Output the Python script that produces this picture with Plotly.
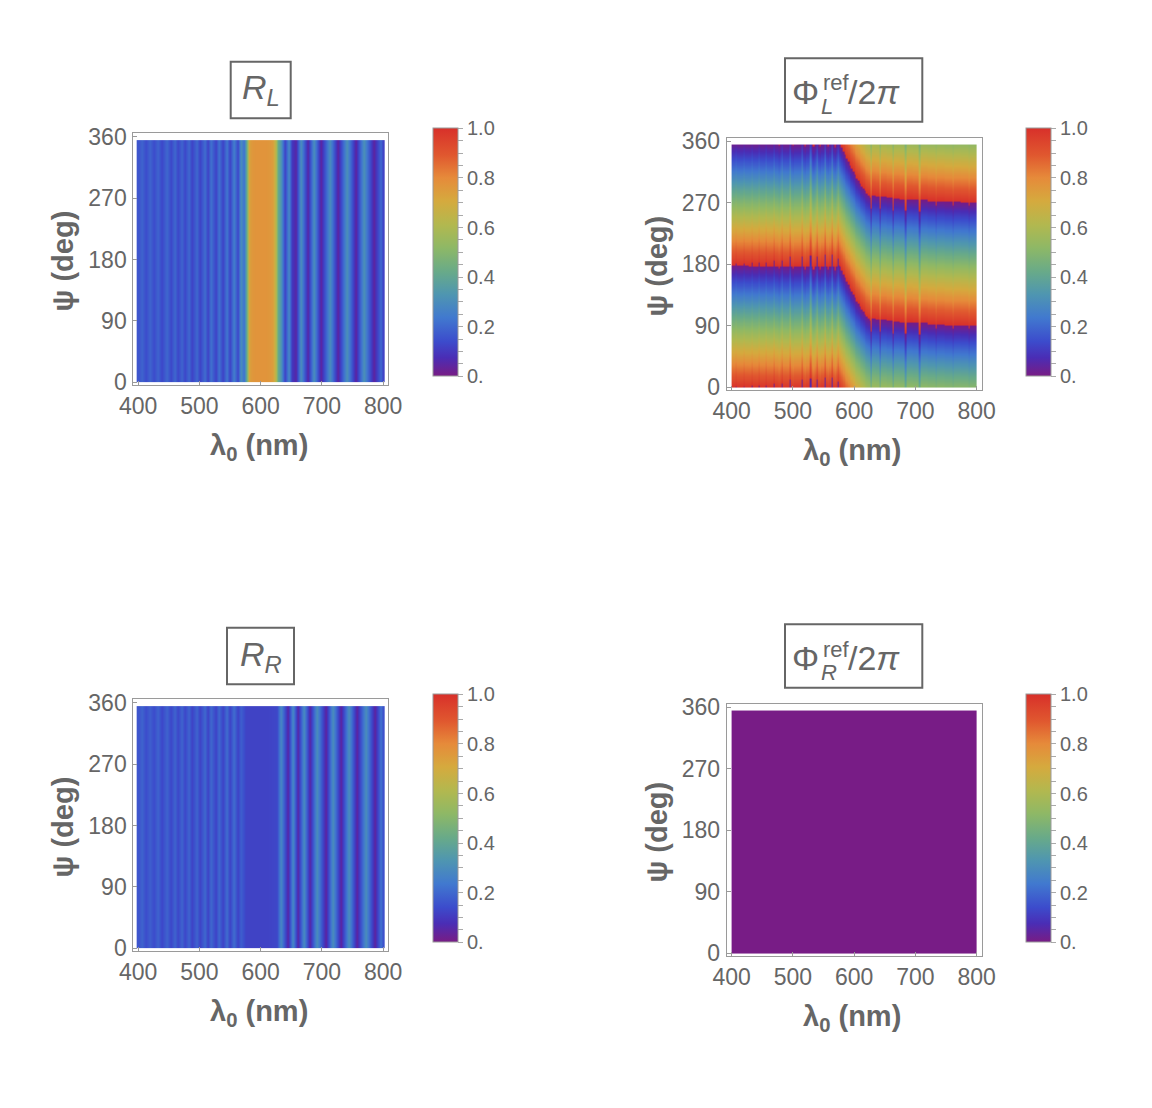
import numpy as np
import plotly.graph_objects as go

W, H = 1152, 1108
OFF = 8  # the page body adds an 8 px margin
FONT = "Liberation Sans, Arial, sans-serif"
GRAY = "#666666"
FRAME = "#9a9a9a"

# R_L(lambda): reflectance (independent of psi)
lam_rl = [400, 405, 412, 419, 426, 432, 439, 446, 453, 459,
          465, 471, 476, 482, 488, 495, 501, 508, 513, 519,
          526, 532, 538, 544, 550, 556, 562, 568, 572, 575,
          578, 581, 585, 592, 600, 608, 615, 620, 624, 627,
          632, 639, 645, 651, 657, 666, 676, 687, 698, 712,
          725, 740, 755, 769, 785, 796, 800]
r_l = [0.16, 0.19, 0.14, 0.19, 0.14, 0.19, 0.13, 0.20, 0.13, 0.20,
       0.13, 0.19, 0.13, 0.20, 0.12, 0.20, 0.12, 0.21, 0.12, 0.22,
       0.12, 0.22, 0.12, 0.23, 0.12, 0.25, 0.13, 0.30, 0.22, 0.35,
       0.55, 0.72, 0.76, 0.77, 0.77, 0.77, 0.76, 0.74, 0.62, 0.42,
       0.33, 0.12, 0.28, 0.10, 0.05, 0.30, 0.05, 0.30, 0.04, 0.30,
       0.04, 0.31, 0.04, 0.31, 0.04, 0.20, 0.12]

# R_R(lambda)
lam_rr = [400, 405, 412, 419, 426, 432, 439, 446, 453, 459,
          465, 471, 476, 482, 488, 495, 501, 508, 513, 519,
          526, 532, 538, 544, 550, 556, 562, 568, 575, 590,
          610, 626, 633, 644, 652, 660, 671, 680, 692, 706,
          717, 731, 744, 757, 771, 787, 796, 800]
r_r = [0.16, 0.19, 0.14, 0.18, 0.14, 0.19, 0.13, 0.19, 0.13, 0.19,
       0.13, 0.19, 0.13, 0.19, 0.12, 0.19, 0.12, 0.20, 0.12, 0.20,
       0.12, 0.20, 0.12, 0.21, 0.12, 0.21, 0.12, 0.18, 0.12, 0.12,
       0.12, 0.13, 0.28, 0.05, 0.28, 0.05, 0.29, 0.05, 0.30, 0.04,
       0.30, 0.04, 0.30, 0.04, 0.30, 0.04, 0.22, 0.15]

# reflected phase offset of L (in turns) at psi = 0, per wavelength column;
# the phase drops one turn per 180 deg of psi
lam_phl = [400, 405, 407, 409, 418, 420, 422, 432, 434, 436,
           443, 445, 447, 454, 456, 458, 467, 469, 471, 475,
           477, 479, 481, 483, 485, 494, 496, 498, 499, 501,
           503, 513, 515, 517, 518, 520, 522, 527, 529, 531,
           532, 534, 536, 537, 539, 541, 543, 545, 547, 551,
           553, 555, 556, 558, 560, 562, 564, 566, 567, 569,
           571, 574, 576, 577.3, 580, 582.7, 585.4, 588.1, 590.8, 593.5,
           596.2, 598.9, 601.6, 604.3, 607, 609.7, 612.4, 615.1, 617.8, 620.5,
           623.2, 625.9, 627.5, 629, 641, 643, 645, 662, 664, 666,
           682, 684, 686, 705, 707, 709, 732, 734, 736, 759,
           761, 763, 786, 788, 790, 800]
phi_l = [-0.012, -0.012, 0.006, -0.012, -0.013, 0.008, -0.013, -0.014, 0.010, -0.014,
         -0.015, 0.012, -0.015, -0.016, 0.015, -0.016, -0.017, 0.025, -0.017, -0.018,
         -0.040, -0.018, -0.018, 0.035, -0.018, -0.020, 0.060, -0.020, -0.020, -0.040,
         -0.020, -0.020, 0.060, -0.020, -0.020, -0.045, -0.020, -0.020, 0.070, -0.020,
         -0.020, -0.045, -0.020, -0.020, 0.060, -0.020, -0.020, -0.045, -0.020, -0.020,
         0.080, -0.020, -0.020, -0.045, -0.020, -0.020, 0.080, -0.020, -0.020, -0.050,
         -0.020, 0.050, -0.010, -0.017, -0.050, -0.085, -0.110, -0.140, -0.167, -0.194,
         -0.220, -0.248, -0.275, -0.303, -0.323, -0.344, -0.365, -0.386, -0.406, -0.427,
         -0.440, -0.453, -0.550, -0.444, -0.450, -0.550, -0.452, -0.462, -0.560, -0.465,
         -0.472, -0.565, -0.473, -0.478, -0.570, -0.480, -0.488, -0.520, -0.490, -0.497,
         -0.525, -0.497, -0.500, -0.525, -0.500, -0.500]

# reflected phase of R: flat zero
lam_phr = [400, 800]
phi_r = [0.0]

psi_max = 355
x_ticks = [400, 500, 600, 700, 800]
y_ticks = [0, 90, 180, 270, 360]
cb_vals = [i / 20 for i in range(21)]
cb_text = ["0." if i == 0 else ("%.1f" % (i / 20) if i % 4 == 0 else "") for i in range(21)]

rainbow = [[0.0, "#781c86"], [0.02, "#6c2191"], [0.074, "#4a2db5"], [0.14, "#3c4ccc"],
           [0.235, "#4179cf"], [0.33, "#4f96b0"], [0.42, "#68aa89"], [0.517, "#8eb866"],
           [0.61, "#b2b84f"], [0.705, "#d5aa3e"], [0.80, "#e68a3a"], [0.89, "#e0582f"],
           [1.0, "#d8302a"]]


def px(x):
    return (x - OFF) / W


def py(y):
    return 1 - (y - OFF) / H


def edges(c):
    c = np.asarray(c, dtype=float)
    return np.concatenate([[c[0]], (c[:-1] + c[1:]) / 2, [c[-1]]])


def colorbar(left, top):
    return dict(x=px(left), xanchor="left", y=py(top), yanchor="top",
                len=248, lenmode="pixels", thickness=25, thicknessmode="pixels",
                xpad=0, ypad=0, outlinewidth=1, outlinecolor=FRAME,
                tickmode="array", tickvals=cb_vals, ticktext=cb_text,
                ticks="outside", ticklen=5, tickcolor="#aaaaaa",
                tickfont=dict(family=FONT, size=20, color=GRAY))


# panel frames in pixels: (left, right, top, bottom), colorbar (left, top)
panels = [
    (133.3, 388.0, 133.3, 385.0, 432.7, 128.3),
    (726.7, 981.5, 137.7, 390.0, 1026.0, 128.3),
    (133.3, 388.0, 699.3, 951.0, 432.7, 694.3),
    (726.7, 981.5, 703.7, 956.0, 1026.0, 694.3),
]

fig = go.Figure()

# R_L
fig.add_trace(go.Heatmap(x=lam_rl, y=[0, psi_max / 2, psi_max], z=[r_l, r_l],
                         zsmooth="best", zmin=0, zmax=1, colorscale=rainbow,
                         xaxis="x", yaxis="y",
                         colorbar=colorbar(panels[0][4], panels[0][5])))

# Phi_L
psi_e = np.arange(0, psi_max + 1, 1.0)
psi_c = (psi_e[:-1] + psi_e[1:]) / 2
z_phl = np.mod(np.asarray(phi_l)[None, :] - psi_c[:, None] / 180.0, 1.0)
fig.add_trace(go.Heatmap(x=edges(lam_phl), y=psi_e, z=z_phl,
                         zsmooth=False, zmin=0, zmax=1, colorscale=rainbow,
                         xaxis="x2", yaxis="y2",
                         colorbar=colorbar(panels[1][4], panels[1][5])))

# R_R
fig.add_trace(go.Heatmap(x=lam_rr, y=[0, psi_max / 2, psi_max], z=[r_r, r_r],
                         zsmooth="best", zmin=0, zmax=1, colorscale=rainbow,
                         xaxis="x3", yaxis="y3",
                         colorbar=colorbar(panels[2][4], panels[2][5])))

# Phi_R
fig.add_trace(go.Heatmap(x=lam_phr, y=[0, psi_max], z=[phi_r],
                         zsmooth=False, zmin=0, zmax=1, colorscale=rainbow,
                         xaxis="x4", yaxis="y4",
                         colorbar=colorbar(panels[3][4], panels[3][5])))

axis_common = dict(showgrid=False, zeroline=False, showline=True, mirror=True,
                   linecolor=FRAME, linewidth=1, ticks="inside", ticklen=4,
                   tickcolor=FRAME, automargin=False,
                   tickfont=dict(family=FONT, size=23, color=GRAY))

layout = dict(width=W, height=H,
              margin=dict(l=0, r=0, t=0, b=0, pad=0, autoexpand=False),
              paper_bgcolor="white", plot_bgcolor="white", showlegend=False)
for i, (l, r, t, b, _, _) in enumerate(panels, start=1):
    sx = "" if i == 1 else str(i)
    layout["xaxis" + sx] = dict(axis_common, domain=[px(l), px(r)], range=[392, 808],
                                tickvals=x_ticks, anchor="y" + sx,
                                ticklabelstandoff=0)
    layout["yaxis" + sx] = dict(axis_common, domain=[py(b), py(t)], range=[-4, 365],
                                tickvals=y_ticks, anchor="x" + sx,
                                ticklabelstandoff=1)
fig.update_layout(**layout)

ann = []
shapes = []


def add_text(text, x, y, size, xanchor="center", angle=0):
    ann.append(dict(text=text, x=px(x), y=py(y), xref="paper", yref="paper",
                    xanchor=xanchor, yanchor="middle", showarrow=False,
                    textangle=angle, font=dict(family=FONT, size=size, color=GRAY)))


def add_box(l, r, t, b):
    shapes.append(dict(type="rect", xref="paper", yref="paper",
                       x0=px(l), x1=px(r), y0=py(b), y1=py(t),
                       line=dict(color=GRAY, width=2)))


for (l, r, t, b, _, _) in panels:
    cx = (l + r) / 2
    cy = (t + b) / 2
    add_text("<b>ψ (deg)</b>", l - 70, cy + 2, 29, angle=-90)
    add_text("<b>λ<sub>0</sub> (nm)</b>", cx - 2, b + 62, 29)

# R titles
add_box(230.7, 290.7, 61.7, 118.3)
add_text("<i>R</i><sub><i>L</i></sub>", 260.7, 90, 34)
add_box(227.0, 294.0, 627.7, 684.3)
add_text("<i>R</i><sub><i>R</i></sub>", 260.5, 656, 34)

# Phi titles (stacked super/subscript)
for dy, sub in [(0, "L"), (566, "R")]:
    add_box(785.0, 922.3, 58.3 + dy, 121.7 + dy)
    add_text("Φ", 821, 92 + dy, 34, xanchor="right")
    add_text("ref", 821, 83 + dy, 22, xanchor="left")
    add_text("<i>%s</i>" % sub, 819, 106 + dy, 22, xanchor="left")
    add_text("/2<i>π</i>", 846, 92 + dy, 34, xanchor="left")

fig.update_layout(annotations=ann, shapes=shapes)
fig.write_html("out.html")
